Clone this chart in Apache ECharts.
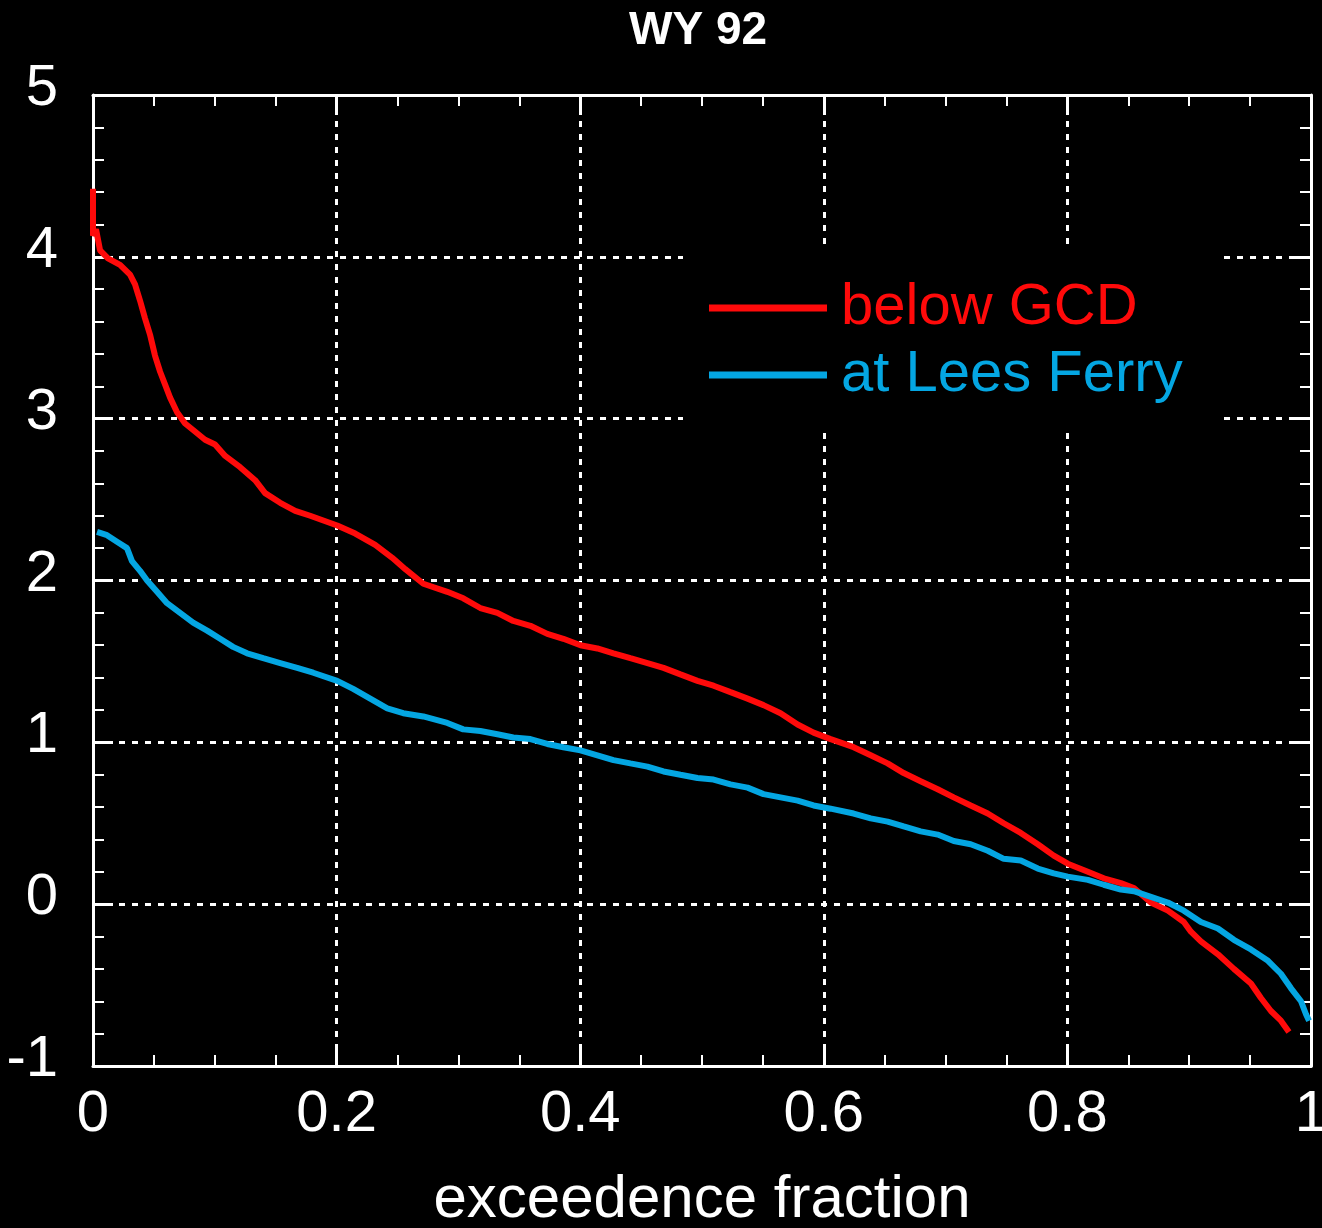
<!DOCTYPE html>
<html>
<head>
<meta charset="utf-8">
<script src="https://cdn.jsdelivr.net/npm/echarts@6/dist/echarts.min.js"></script>
<style>
html,body{margin:0;padding:0;background:#000;overflow:hidden;}
#chart{width:1322px;height:1228px;}
</style>
</head>
<body>
<div id="chart"></div>
<script>
const titleText = 'WY 92';
const xAxisName = 'exceedence fraction';
const seriesNames = ['below GCD', 'at Lees Ferry'];

const belowGcdX = [0, 0, 0.0025, 0.0058, 0.0123, 0.0222, 0.0304, 0.0345, 0.0386, 0.0427, 0.0468, 0.0509, 0.0551, 0.0592, 0.0633, 0.069, 0.0756, 0.0822, 0.092, 0.1002, 0.1085, 0.1208, 0.1331, 0.1413, 0.1537, 0.166, 0.1783, 0.2005, 0.2153, 0.2317, 0.2457, 0.2564, 0.2712, 0.2909, 0.304, 0.318, 0.332, 0.3451, 0.3591, 0.373, 0.3862, 0.4002, 0.4141, 0.4273, 0.4412, 0.4552, 0.4684, 0.4823, 0.4963, 0.5095, 0.5234, 0.5374, 0.5505, 0.5645, 0.5785, 0.5916, 0.6056, 0.6245, 0.6385, 0.6524, 0.6656, 0.6795, 0.6935, 0.7067, 0.7206, 0.7346, 0.7477, 0.7617, 0.7757, 0.7888, 0.8003, 0.8168, 0.8299, 0.8439, 0.8546, 0.8685, 0.8825, 0.8956, 0.9014, 0.9096, 0.9236, 0.9367, 0.9507, 0.9589, 0.9671, 0.9753, 0.9819];
const belowGcdY = [4.42, 4.13, 4.17, 4.04, 3.99, 3.95, 3.89, 3.83, 3.73, 3.62, 3.52, 3.39, 3.29, 3.21, 3.13, 3.04, 2.97, 2.93, 2.87, 2.84, 2.77, 2.70, 2.62, 2.54, 2.48, 2.43, 2.40, 2.34, 2.29, 2.22, 2.14, 2.07, 1.98, 1.93, 1.89, 1.83, 1.80, 1.75, 1.72, 1.67, 1.64, 1.60, 1.58, 1.55, 1.52, 1.49, 1.46, 1.42, 1.38, 1.35, 1.31, 1.27, 1.23, 1.18, 1.11, 1.06, 1.02, 0.97, 0.92, 0.87, 0.81, 0.76, 0.71, 0.66, 0.61, 0.56, 0.50, 0.44, 0.37, 0.30, 0.25, 0.20, 0.16, 0.13, 0.10, 0.01, -0.04, -0.11, -0.17, -0.23, -0.31, -0.40, -0.49, -0.58, -0.66, -0.72, -0.79];

const leesFerryX = [0.0033, 0.0115, 0.0197, 0.0279, 0.032, 0.0386, 0.0444, 0.0526, 0.0608, 0.0715, 0.0822, 0.0937, 0.1044, 0.115, 0.1265, 0.1397, 0.1537, 0.1676, 0.1808, 0.2005, 0.2136, 0.2276, 0.2416, 0.2547, 0.2712, 0.2909, 0.304, 0.318, 0.332, 0.3451, 0.3591, 0.373, 0.3862, 0.4002, 0.4141, 0.4273, 0.4412, 0.4552, 0.4684, 0.4823, 0.4963, 0.5095, 0.5234, 0.5374, 0.5505, 0.5645, 0.5785, 0.5916, 0.6056, 0.6245, 0.6385, 0.6524, 0.6656, 0.6795, 0.6935, 0.7067, 0.7206, 0.7346, 0.7477, 0.7617, 0.7757, 0.7888, 0.8003, 0.8168, 0.8299, 0.8439, 0.8546, 0.8825, 0.8956, 0.9096, 0.9236, 0.9367, 0.9507, 0.9647, 0.9753, 0.9836, 0.9918, 0.9959, 0.9984];
const leesFerryY = [2.30, 2.28, 2.24, 2.20, 2.12, 2.06, 2.00, 1.93, 1.86, 1.80, 1.74, 1.69, 1.64, 1.59, 1.55, 1.52, 1.49, 1.46, 1.43, 1.38, 1.33, 1.27, 1.21, 1.18, 1.16, 1.12, 1.08, 1.07, 1.05, 1.03, 1.02, 0.99, 0.97, 0.95, 0.92, 0.89, 0.87, 0.85, 0.82, 0.80, 0.78, 0.77, 0.74, 0.72, 0.68, 0.66, 0.64, 0.61, 0.59, 0.56, 0.53, 0.51, 0.48, 0.45, 0.43, 0.39, 0.37, 0.33, 0.28, 0.27, 0.22, 0.19, 0.17, 0.15, 0.12, 0.09, 0.08, 0.01, -0.04, -0.11, -0.15, -0.22, -0.28, -0.35, -0.43, -0.52, -0.60, -0.68, -0.72];

const xTickLabels = ['0', '0.2', '0.4', '0.6', '0.8', '1'];
const yTickLabels = ['-1', '0', '1', '2', '3', '4', '5'];

const colors = ['#ff0a0a', '#04a6e2'];
const font = '"Liberation Sans", Arial, sans-serif';

function pairs(xs, ys) { return xs.map((x, i) => [x, ys[i]]); }

const chart = echarts.init(document.getElementById('chart'), null, {renderer: 'canvas'});

const axisLine = {show: true, onZero: false, lineStyle: {color: '#fff', width: 3}};
const axisTick = {show: true, inside: true, length: 20, lineStyle: {color: '#fff', width: 3}};
function minor(n) { return {show: true, splitNumber: n, length: 11, lineStyle: {color: '#fff', width: 2}}; }
const gridLine = {show: true, lineStyle: {color: '#fff', width: 3, type: [6, 7]}};

const option = {
  backgroundColor: '#000',
  animation: false,
  title: {
    text: titleText,
    left: 629,
    top: 8,
    padding: 0,
    textStyle: {color: '#fff', fontSize: 46, fontWeight: 'bold', fontFamily: font}
  },
  grid: {left: 93, right: 11, top: 95, bottom: 162, containLabel: false, outerBoundsMode: 'none'},
  legend: {
    orient: 'vertical',
    left: 683,
    top: 245,
    backgroundColor: '#000',
    padding: [33, 40, 28, 26],
    itemGap: 7,
    itemWidth: 118,
    itemHeight: 7,
    icon: 'rect',
    data: [
      {name: seriesNames[0], textStyle: {color: colors[0]}},
      {name: seriesNames[1], textStyle: {color: colors[1]}}
    ],
    textStyle: {fontSize: 58, fontFamily: font, lineHeight: 60, padding: [0, 0, 0, 9]}
  },
  xAxis: [
    {
      type: 'value', min: 0, max: 1, interval: 0.2, position: 'bottom',
      name: xAxisName, nameLocation: 'middle', nameGap: 104,
      nameTextStyle: {color: '#fff', fontSize: 60, fontFamily: font},
      axisLabel: {
        color: '#fff', fontSize: 58, fontFamily: font, margin: 20,
        formatter: (v) => xTickLabels[Math.round(v / 0.2)]
      },
      splitLine: gridLine, minorTick: minor(4), axisLine: axisLine, axisTick: axisTick
    },
    {
      type: 'value', min: 0, max: 1, interval: 0.2, position: 'top',
      axisLabel: {show: false}, splitLine: {show: false},
      minorTick: minor(4), axisLine: axisLine, axisTick: axisTick
    }
  ],
  yAxis: [
    {
      type: 'value', min: -1, max: 5, interval: 1, position: 'left',
      axisLabel: {
        color: '#fff', margin: 35,
        formatter: (v) => '{v|' + yTickLabels[Math.round(v + 1)] + '}\n{s| }',
        rich: {
          v: {color: '#fff', fontSize: 58, fontFamily: font, lineHeight: 58, align: 'right'},
          s: {fontSize: 1, lineHeight: 12}
        }
      },
      splitLine: gridLine, minorTick: minor(5), axisLine: axisLine, axisTick: axisTick
    },
    {
      type: 'value', min: -1, max: 5, interval: 1, position: 'right',
      axisLabel: {show: false}, splitLine: {show: false},
      minorTick: minor(5), axisLine: axisLine, axisTick: axisTick
    }
  ],
  series: [
    {
      name: seriesNames[0], type: 'line', xAxisIndex: 0, yAxisIndex: 0,
      data: pairs(belowGcdX, belowGcdY), showSymbol: false, symbol: 'none',
      clip: false, color: colors[0],
      lineStyle: {color: colors[0], width: 6}
    },
    {
      name: seriesNames[1], type: 'line', xAxisIndex: 0, yAxisIndex: 0,
      data: pairs(leesFerryX, leesFerryY), showSymbol: false, symbol: 'none',
      clip: false, color: colors[1],
      lineStyle: {color: colors[1], width: 6}
    }
  ]
};

chart.setOption(option);
</script>
</body>
</html>
